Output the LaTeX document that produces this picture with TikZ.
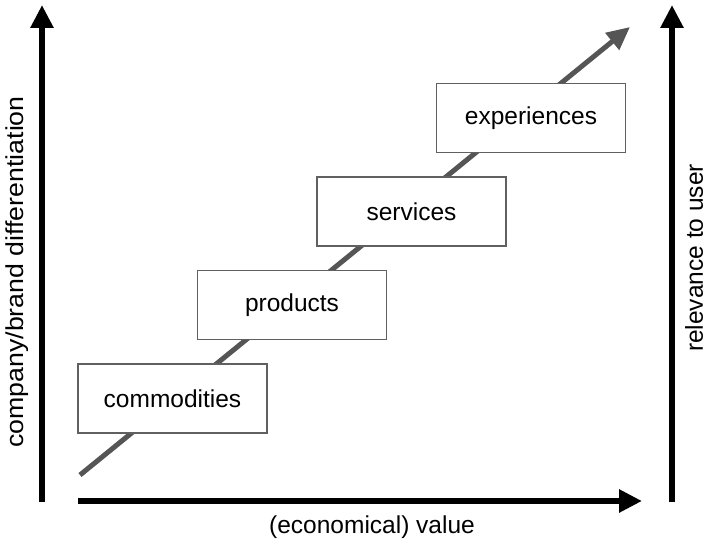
\documentclass[tikz,border=0pt]{standalone}
\usepackage{fontspec}
\setmainfont{Liberation Sans}
\usetikzlibrary{arrows.meta}
\definecolor{stepgray}{HTML}{555555}
\definecolor{framegray}{HTML}{606060}

\begin{document}
\begin{tikzpicture}[x=1pt,y=-1pt,font=\fontsize{24.5}{29}\selectfont]
	\tikzstyle{block} = [rectangle, draw=framegray, line width=1.4pt, fill=white, minimum width=189pt, minimum height=69pt, inner sep=0pt];
	\tikzstyle{axis} = [line width=6pt, -{Triangle[length=23pt,width=22pt]}];
	\tikzstyle{axislabel} = [inner sep=0pt];
	\useasboundingbox (0,0) rectangle (706,543);

	% ends of the axes and of the rising arrow
	\coordinate (yleft0) at (42,502);
	\coordinate (yleft1) at (42,5);
	\coordinate (yright0) at (672,502);
	\coordinate (yright1) at (672,5);
	\coordinate (xaxis0) at (78,501);
	\coordinate (xaxis1) at (642,501);
	\coordinate (rise0) at (80,475);
	\coordinate (rise1) at (630,27);

	\draw [line width=5pt, draw=stepgray, -{Triangle[length=23pt,width=21pt]}] (rise0) -- (rise1);

	\draw node [block] at (172.5,398.5) (commod){commodities};
	\draw node [block] at ([shift={(119.5,-93.5)}]commod) (prod){products};
	\draw node [block] at ([shift={(119.5,-93.5)}]prod) (serv){services};
	\draw node [block] at ([shift={(119.5,-93.5)}]serv) (exper){experiences};

	\draw [axis] (yleft0) -- (yleft1);
	\draw [axis] (yright0) -- (yright1);
	\draw [axis] (xaxis0) -- (xaxis1);

	\node [axislabel, rotate=90] at (17,272) (difflabel){\scalebox{1.09}[1]{company/brand differentiation}};
	\node [axislabel, rotate=90] at (694,258) (userlabel){relevance to user};
	\node [axislabel] at (372,527) (valuelabel){(economical) value};
\end{tikzpicture}
\end{document}
